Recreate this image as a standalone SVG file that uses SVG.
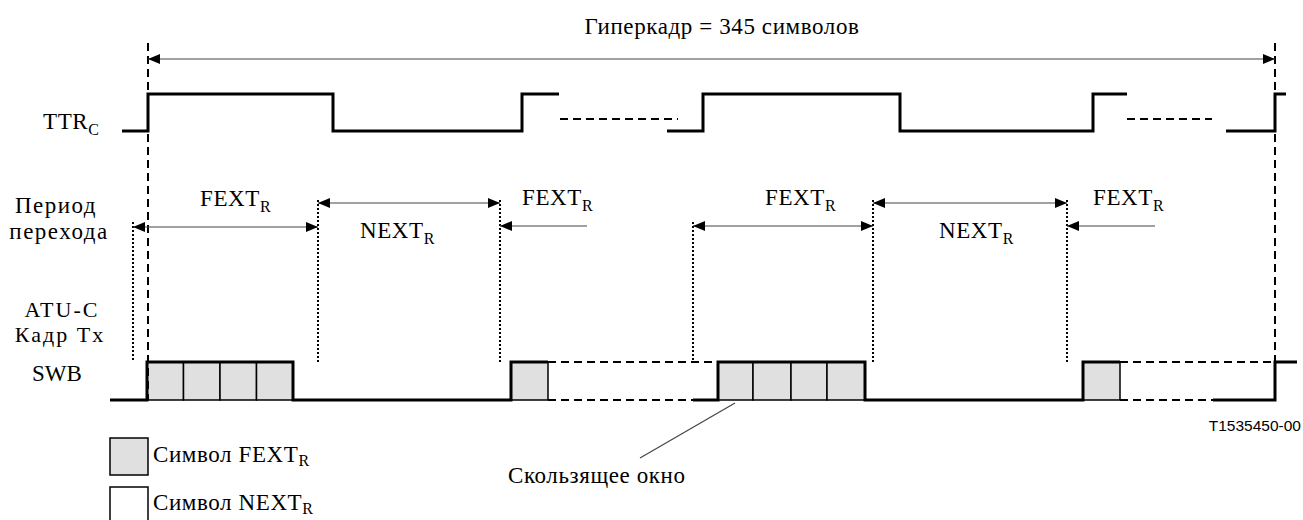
<svg xmlns="http://www.w3.org/2000/svg" width="1303" height="520" viewBox="0 0 1303 520">
<style>
text{font-family:"Liberation Serif","Times New Roman",serif;font-size:23px;letter-spacing:0.6px;fill:#000}
.sub{font-size:16px;letter-spacing:0}
.side{letter-spacing:1.5px}
.side2{font-size:22px;letter-spacing:2px}
.wave{fill:none;stroke:#000;stroke-width:3;stroke-linejoin:miter}
.dash{fill:none;stroke:#000;stroke-width:2;stroke-dasharray:8 5}
.dot{fill:none;stroke:#000;stroke-width:2;stroke-dasharray:2 2}
.dim{fill:none;stroke:#444;stroke-width:1.2}
.cell{fill:#e0e0e0;stroke:#000;stroke-width:1.5}
.code{font-family:"Liberation Sans",Arial,sans-serif;font-size:15.5px;letter-spacing:0}
</style>
<defs>
<marker id="ah" viewBox="0 0 12 10" refX="12" refY="5" markerWidth="12" markerHeight="10" markerUnits="userSpaceOnUse" orient="auto-start-reverse">
<path d="M0,0 L12,5 L0,10 Z" fill="#000"/>
</marker>
</defs>

<g id="labels">
<text x="722" y="34" text-anchor="middle">Гиперкадр = 345 символов</text>
<text x="43" y="129">TTR<tspan class="sub" dy="6">C</tspan></text>
<text class="side" x="56" y="213" text-anchor="middle">Период</text>
<text class="side" x="59" y="239" text-anchor="middle">перехода</text>
<text class="side2" x="62" y="317" text-anchor="middle">ATU-C</text>
<text class="side2" x="60" y="342" text-anchor="middle">Кадр Tx</text>
<text x="32" y="381" style="letter-spacing:0">SWB</text>
<text x="200" y="206">FEXT<tspan class="sub" dy="6">R</tspan></text>
<text x="360" y="238">NEXT<tspan class="sub" dy="6">R</tspan></text>
<text x="522" y="205">FEXT<tspan class="sub" dy="6">R</tspan></text>
<text x="765" y="205">FEXT<tspan class="sub" dy="6">R</tspan></text>
<text x="939" y="238">NEXT<tspan class="sub" dy="6">R</tspan></text>
<text x="1093" y="205">FEXT<tspan class="sub" dy="6">R</tspan></text>
<text x="508" y="483">Скользящее окно</text>
<text class="code" x="1301" y="431" text-anchor="end">T1535450-00</text>
</g>

<g id="ttr">
<path class="wave" d="M122,131 H148 V94 H333 V131 H522 V94 H559"/>
<path class="dash" d="M560,119 H678"/>
<path class="wave" d="M667,131 H703 V94 H900 V131 H1093 V94 H1127"/>
<path class="dash" d="M1127,119 H1212"/>
<path class="wave" d="M1226,131 H1275 V94 H1286"/>
</g>

<g id="swb">
<rect class="cell" x="147" y="362" width="36.5" height="38"/>
<rect class="cell" x="183.5" y="362" width="36.5" height="38"/>
<rect class="cell" x="220" y="362" width="36.5" height="38"/>
<rect class="cell" x="256.5" y="362" width="36.5" height="38"/>
<rect class="cell" x="511" y="362" width="37" height="38"/>
<rect class="cell" x="718" y="362" width="35" height="38"/>
<rect class="cell" x="753" y="362" width="38" height="38"/>
<rect class="cell" x="791" y="362" width="36" height="38"/>
<rect class="cell" x="827" y="362" width="38" height="38"/>
<rect class="cell" x="1083" y="362" width="37" height="38"/>
<path class="wave" d="M110,400 H147 V362 H293 V400 H511 V362 H548"/>
<path class="dash" d="M548,362 H717 M548,400 H693"/>
<path class="wave" d="M693,400 H718 V362 H865 V400 H1083 V362 H1120"/>
<path class="dash" d="M1120,362 H1275 M1120,400 H1213"/>
<path class="wave" d="M1213,400 H1275 V362 H1297"/>
</g>

<g id="legend">
<rect class="cell" x="110" y="438" width="38" height="37"/>
<text x="153" y="462">Символ FEXT<tspan class="sub" dy="4">R</tspan></text>
<rect x="110" y="487" width="38" height="40" fill="#fff" stroke="#000" stroke-width="1.5"/>
<text x="153" y="510">Символ NEXT<tspan class="sub" dy="4">R</tspan></text>
</g>

<g id="connectors">
<path class="dash" d="M148,43 V400 M1275,43 V400"/>
<path class="dot" d="M133,222 V362 M318,200 V362 M500,200 V362 M693,222 V362 M873,200 V362 M1067,200 V362"/>
<line class="dim" x1="148" y1="59" x2="1275" y2="59" marker-start="url(#ah)" marker-end="url(#ah)"/>
<line class="dim" x1="133" y1="227" x2="318" y2="227" marker-start="url(#ah)" marker-end="url(#ah)"/>
<line class="dim" x1="318" y1="203" x2="500" y2="203" marker-start="url(#ah)" marker-end="url(#ah)"/>
<line class="dim" x1="587" y1="226" x2="500" y2="226" marker-end="url(#ah)"/>
<line class="dim" x1="693" y1="226" x2="873" y2="226" marker-start="url(#ah)" marker-end="url(#ah)"/>
<line class="dim" x1="873" y1="203" x2="1067" y2="203" marker-start="url(#ah)" marker-end="url(#ah)"/>
<line class="dim" x1="1155" y1="226" x2="1067" y2="226" marker-end="url(#ah)"/>
<line class="dim" x1="735" y1="403" x2="640" y2="458"/>
</g>
</svg>
